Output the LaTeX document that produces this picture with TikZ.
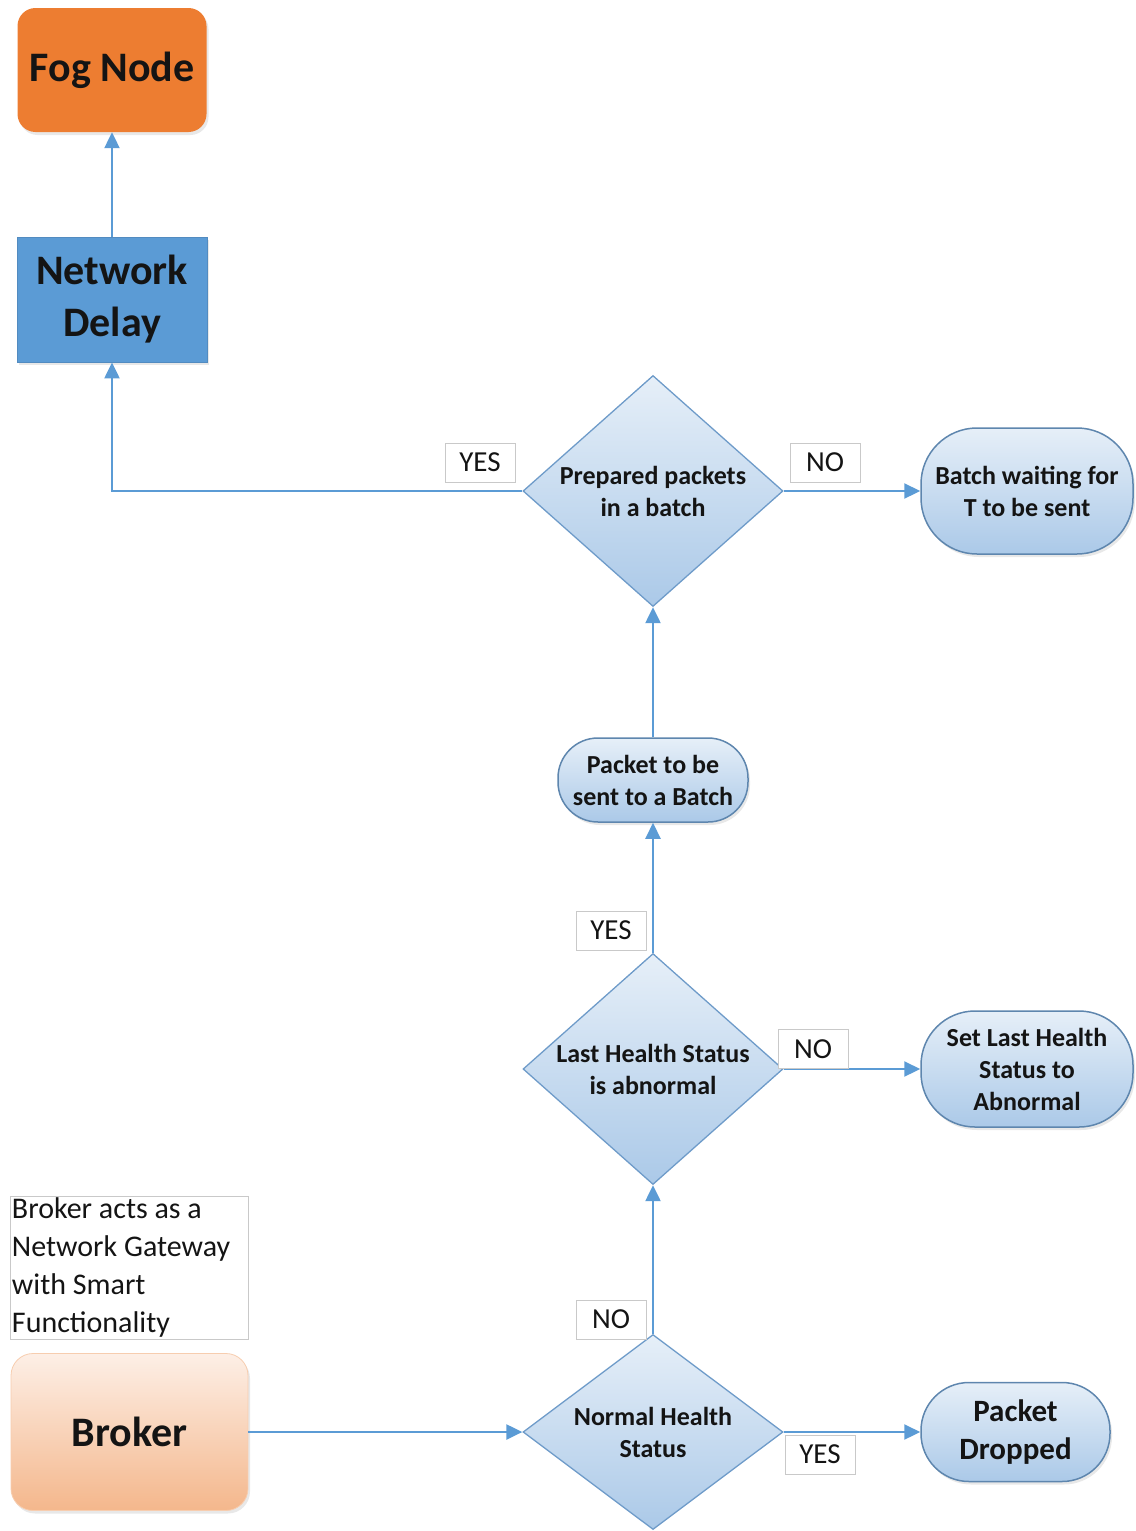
\documentclass[tikz,border=0pt]{standalone}
\usepackage{fontspec}
\setmainfont{Carlito}
\usetikzlibrary{shapes.geometric,arrows.meta,shadows}

\definecolor{flowblue}{HTML}{5B9BD5}
\definecolor{fogorange}{HTML}{ED7D31}
\definecolor{lighttop}{HTML}{E6EFF8}
\definecolor{lightbot}{HTML}{ABC9E8}
\definecolor{stadiumedge}{HTML}{5E86AE}
\definecolor{diamondedge}{HTML}{6E9BC9}
\definecolor{peachtop}{HTML}{FDEFE6}
\definecolor{peachbot}{HTML}{F4B78C}
\definecolor{boxgray}{HTML}{C9C9C9}
\definecolor{inkblack}{HTML}{141414}

\tikzset{
  softshadow/.style={drop shadow={opacity=0.18, shadow xshift=2pt, shadow yshift=-3pt}},
  arr/.style={draw=flowblue, line width=2.2pt, -{Triangle[length=16pt,width=15pt]}},
  bigtext/.style={font=\fontsize{42}{52}\selectfont\bfseries, text=inkblack, align=center},
  midtext/.style={font=\fontsize{26}{32}\selectfont\bfseries, text=inkblack, align=center},
  decision/.style={diamond, inner sep=0pt, minimum width=260pt, minimum height=231pt,
    top color=lighttop, bottom color=lightbot, draw=diamondedge, line width=1.3pt},
  stadium/.style={rectangle, inner sep=0pt, top color=lighttop, bottom color=lightbot,
    draw=stadiumedge, line width=1.5pt, softshadow},
  tag/.style={rectangle, draw=boxgray, line width=1pt, fill=white, inner sep=0pt,
    minimum width=70pt, minimum height=39pt, font=\fontsize{29}{34}\selectfont, text=inkblack},
}

\begin{document}
\begin{tikzpicture}[x=1pt,y=-1pt]
\useasboundingbox (0,0) rectangle (1135,1531);

% left column: destination blocks
\node[rectangle, rounded corners=18pt, fill=fogorange, minimum width=189pt, minimum height=124pt,
  inner sep=0pt, bigtext, softshadow] (fog) at (112,70) {Fog Node};
\node[rectangle, fill=flowblue, draw=flowblue!90!black, line width=0.8pt, minimum width=190pt,
  minimum height=125pt, inner sep=0pt, bigtext, softshadow] (delay) at (112,299.5) {Network\\Delay};

% decisions
\node[decision] (d1) at (653,491) {};
\node[midtext] (d1t) at (d1.center) {Prepared packets\\in a batch};
\node[decision] (d2) at (653,1069) {};
\node[midtext] (d2t) at (d2.center) {Last Health Status\\is abnormal};
\node[decision, minimum height=195pt] (d3) at (653,1432) {};
\node[midtext] (d3t) at (d3.center) {Normal Health\\Status};

% outcome nodes
\node[stadium, rounded corners=56pt, minimum width=212pt, minimum height=126pt, midtext]
  (batch) at (1027,491) {Batch waiting for\\T to be sent};
\node[stadium, rounded corners=40pt, minimum width=190pt, minimum height=84pt, midtext]
  (pkt) at (653,780) {Packet to be\\sent to a Batch};
\node[stadium, rounded corners=54pt, minimum width=212pt, minimum height=116pt, midtext]
  (setlh) at (1027,1069) {Set Last Health\\Status to\\Abnormal};
\node[stadium, rounded corners=48pt, minimum width=189pt, minimum height=99pt,
  font=\fontsize{31}{38}\selectfont\bfseries, text=inkblack, align=center]
  (drop) at (1015.5,1432) {Packet\\Dropped};

% broker and its note
\node[rectangle, rounded corners=22pt, top color=peachtop, bottom color=peachbot,
  draw=peachbot!70!white, line width=0.8pt, minimum width=237pt, minimum height=157pt,
  inner sep=0pt, bigtext, softshadow] (broker) at (129.5,1432) {Broker};
\node[rectangle, draw=boxgray, line width=1pt, minimum width=238pt, minimum height=143pt,
  inner xsep=2pt, inner ysep=0pt, text width=234pt, align=flush left,
  font=\fontsize{30}{38}\selectfont, text=inkblack] (note) at (129,1267.5)
  {Broker acts as a\\Network Gateway\\with Smart\\Functionality};

% connectors
\draw[arr] (delay.north) -- (fog.south);
\draw[arr] (d1.west) -| (delay.south);
\draw[arr] (d1.east) -- (batch.west);
\draw[arr] (pkt.north) -- (d1.south);
\draw[arr] (d2.north) -- (pkt.south);
\draw[arr] (d2.east) -- (setlh.west);
\draw[arr] (d3.north) -- (d2.south);
\draw[arr] (d3.east) -- (drop.west);
\draw[arr] (broker.east) -- (d3.west);

% branch tags
\node[tag] (yes1) at (480,462.5) {YES};
\node[tag] (no1) at (825,462.5) {NO};
\node[tag] (yes2) at (611,930.5) {YES};
\node[tag] (no2) at (813,1049) {NO};
\node[tag] (no3) at (611,1319.5) {NO};
\node[tag] (yes3) at (820,1454.5) {YES};
\end{tikzpicture}
\end{document}
